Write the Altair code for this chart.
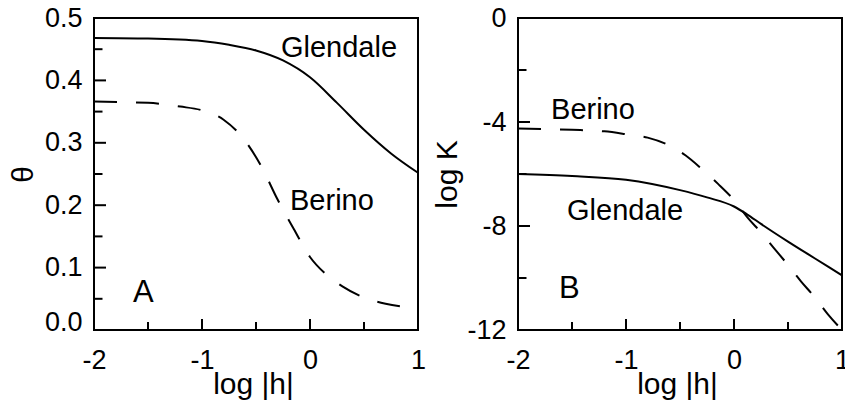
import altair as alt
import pandas as pd

FONT = "Liberation Sans"

# ---------------- data ----------------
# Panel A: theta vs log|h|
glen_a_x = [-2.0, -1.5, -1.0, -0.75, -0.5, -0.25, 0.0, 0.25, 0.5, 0.75, 1.0]
glen_a_y = [0.468, 0.467, 0.463, 0.457, 0.448, 0.432, 0.405, 0.364, 0.321, 0.283, 0.252]
ber_a_x = [-2.0, -1.5, -1.2, -1.0, -0.8, -0.6, -0.45, -0.3, -0.15, 0.0, 0.15, 0.3, 0.5, 0.7, 0.88]
ber_a_y = [0.366, 0.364, 0.358, 0.352, 0.337, 0.303, 0.262, 0.209, 0.162, 0.117, 0.089, 0.070, 0.052, 0.042, 0.037]

# Panel B: log K vs log|h|
glen_b_x = [-2.0, -1.5, -1.0, -0.5, -0.25, 0.0, 0.12, 0.25, 0.5, 0.75, 1.0]
glen_b_y = [-6.0, -6.08, -6.22, -6.62, -6.9, -7.25, -7.55, -7.92, -8.6, -9.25, -9.9]
ber_b_x = [-2.0, -1.5, -1.2, -1.0, -0.8, -0.6, -0.45, -0.3, -0.15, 0.0, 0.13, 0.25, 0.36, 0.5, 0.62, 0.75, 0.87, 1.0]
ber_b_y = [-4.25, -4.3, -4.36, -4.47, -4.6, -4.9, -5.28, -5.8, -6.37, -7.0, -7.7, -8.25, -8.8, -9.5, -10.13, -10.75, -11.4, -12.0]

# axis ticks
x_major = [-2, -1, 0, 1]
x_minor_ticks = [-1.5, -0.5, 0.5]
x_major_ticks = [-1.0, 0.0]
a_y_labels = [0.0, 0.1, 0.2, 0.3, 0.4, 0.5]
a_y_major_ticks = [0.1, 0.2, 0.3, 0.4]
a_y_minor_ticks = [0.05, 0.15, 0.25, 0.35, 0.45]
b_y_labels = [0, -4, -8, -12]
b_y_major_ticks = [-4, -8]
b_y_minor_ticks = [-2, -6, -10]

# annotations
a_text = ["Glendale", "Berino"]
a_text_x = [-0.269, -0.185]
a_text_y = [0.4375, 0.192]
a_letter, a_letter_x, a_letter_y = ["A"], [-1.639], [0.0449]
b_text = ["Berino", "Glendale"]
b_text_x = [-1.694, -1.546]
b_text_y = [-3.87, -7.77]
b_letter, b_letter_x, b_letter_y = ["B"], [-1.62], [-10.77]

W, H = 324, 312
NEG = "datum.value < 0 ? '-' + abs(datum.value) : '' + datum.value"


def panel(gx, gy, bx, by, ydom, ylabels, ylabel_expr, ymaj, ymin, ytitle, ytitle_x,
          txt, tx, ty, letter, lx, ly, zero_shift):
    xs = alt.Scale(domain=[-2, 1], nice=False, zero=False)
    ys = alt.Scale(domain=ydom, nice=False, zero=False)
    label_baseline = "middle"
    if zero_shift:
        label_baseline = {"condition": {"test": "datum.value == 0", "value": "alphabetic"},
                          "value": "middle"}
    xaxis = alt.Axis(values=x_major, labelExpr=NEG, ticks=False, domain=False, grid=False,
                     labelFont=FONT, labelFontSize=27, labelColor="black",
                     labelPadding=17, labelFlush=False, labelOverlap=False,
                     title="log |h|", titleFont=FONT, titleFontSize=30,
                     titleFontWeight="normal", titleColor="black",
                     titleX=159, titleY=63, titleBaseline="alphabetic", titleAlign="center")
    yaxis = alt.Axis(values=ylabels, labelExpr=ylabel_expr, ticks=False, domain=False, grid=False,
                     labelFont=FONT, labelFontSize=27, labelColor="black",
                     labelPadding=12, labelFlush=False, labelOverlap=False,
                     labelBaseline=label_baseline,
                     title=ytitle, titleFont=FONT, titleFontSize=30,
                     titleFontWeight="normal", titleColor="black", titleAngle=270,
                     titleX=ytitle_x, titleY=156, titleBaseline="alphabetic", titleAlign="center")

    dg = pd.DataFrame({"x": gx, "y": gy})
    db = pd.DataFrame({"x": bx, "y": by})

    glen = alt.Chart(dg).mark_line(color="black", strokeWidth=2, interpolate="monotone").encode(
        x=alt.X("x:Q", scale=xs, axis=xaxis), y=alt.Y("y:Q", scale=ys, axis=yaxis), order="x:Q")
    ber = alt.Chart(db).mark_line(color="black", strokeWidth=2, strokeDash=[23, 19],
                                  interpolate="monotone").encode(
        x=alt.X("x:Q", scale=xs), y=alt.Y("y:Q", scale=ys), order="x:Q")

    t_ymaj = alt.Chart(pd.DataFrame({"y": ymaj})).mark_rule(color="black", strokeWidth=2).encode(
        y=alt.Y("y:Q", scale=ys), x=alt.value(0), x2=alt.value(12))
    t_ymin = alt.Chart(pd.DataFrame({"y": ymin})).mark_rule(color="black", strokeWidth=2).encode(
        y=alt.Y("y:Q", scale=ys), x=alt.value(0), x2=alt.value(8.5))
    t_xmin = alt.Chart(pd.DataFrame({"x": x_minor_ticks})).mark_rule(color="black", strokeWidth=2).encode(
        x=alt.X("x:Q", scale=xs), y=alt.value(H), y2=alt.value(H - 8))
    t_xmaj = alt.Chart(pd.DataFrame({"x": x_major_ticks})).mark_rule(color="black", strokeWidth=2).encode(
        x=alt.X("x:Q", scale=xs), y=alt.value(H), y2=alt.value(H - 11))

    tdf = pd.DataFrame({"t": txt, "x": tx, "y": ty})
    ldf = pd.DataFrame({"t": letter, "x": lx, "y": ly})
    texts = alt.Chart(tdf).mark_text(font=FONT, fontSize=29, color="black",
                                     align="left", baseline="alphabetic").encode(
        x=alt.X("x:Q", scale=xs), y=alt.Y("y:Q", scale=ys), text="t:N")
    letters = alt.Chart(ldf).mark_text(font=FONT, fontSize=31, color="black",
                                       align="left", baseline="alphabetic").encode(
        x=alt.X("x:Q", scale=xs), y=alt.Y("y:Q", scale=ys), text="t:N")

    return alt.layer(glen, ber, t_ymaj, t_ymin, t_xmin, t_xmaj, texts, letters).properties(
        width=W, height=H)


left = panel(glen_a_x, glen_a_y, ber_a_x, ber_a_y, [0, 0.5], a_y_labels,
             "format(datum.value, '.1f')",
             a_y_major_ticks, a_y_minor_ticks, "θ", -62,
             a_text, a_text_x, a_text_y, a_letter, a_letter_x, a_letter_y, True)
right = panel(glen_b_x, glen_b_y, ber_b_x, ber_b_y, [-12, 0], b_y_labels, NEG,
              b_y_major_ticks, b_y_minor_ticks, "log K", -62,
              b_text, b_text_x, b_text_y, b_letter, b_letter_x, b_letter_y, False)

chart = alt.hconcat(left, right, spacing=4).properties(
    autosize=alt.AutoSizeParams(type="none"),
    padding={"left": 86, "top": 10, "right": 751, "bottom": 381},
    background="white",
).configure_view(stroke="black", strokeWidth=2)

chart.save("out.html", embed_options={"renderer": "svg", "actions": False})
